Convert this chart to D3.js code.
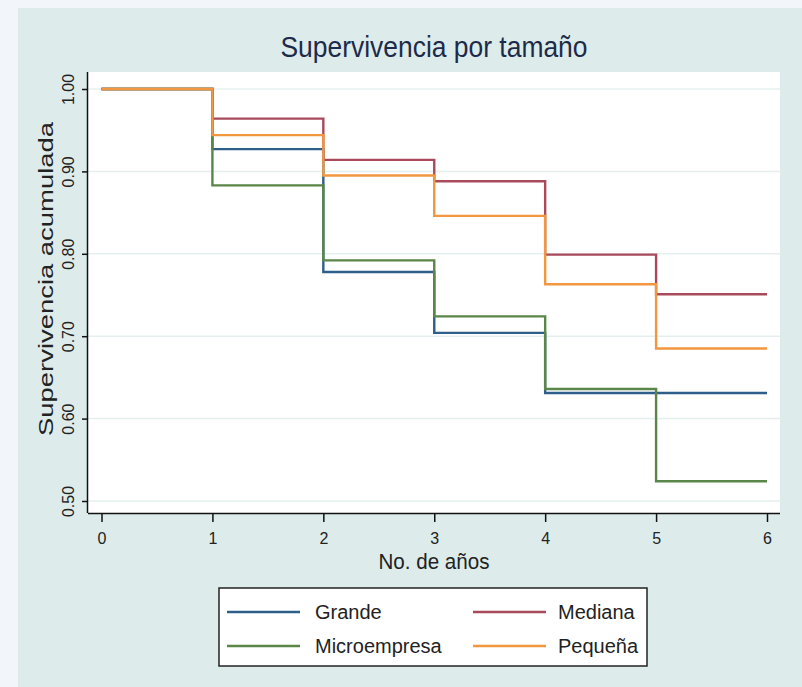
<!DOCTYPE html>
<html>
<head>
<meta charset="utf-8">
<script src="https://cdn.jsdelivr.net/npm/d3@7"></script>
<style>
  html, body { margin: 0; padding: 0; background: #f2f5f9; }
  svg { display: block; }
  text { font-family: "Liberation Sans", Arial, sans-serif; }
</style>
</head>
<body>
<svg id="chart" width="802" height="687"></svg>
<script>
// years on the x axis
var years = [0, 1, 2, 3, 4, 5, 6];
var xTicks = [0, 1, 2, 3, 4, 5, 6];
var yTicks = [0.5, 0.6, 0.7, 0.8, 0.9, 1.0];

// cumulative survival at each year (step after)
var grande      = [1.000, 0.927, 0.778, 0.704, 0.631, 0.631, 0.631];
var mediana     = [1.000, 0.964, 0.914, 0.888, 0.799, 0.751, 0.751];
var microempresa= [1.000, 0.883, 0.792, 0.724, 0.636, 0.524, 0.524];
var pequena     = [1.000, 0.944, 0.895, 0.846, 0.763, 0.685, 0.685];

var seriesNames = ["Grande", "Mediana", "Microempresa", "Pequeña"];
var seriesColors = ["#2d5f8a", "#a84a5b", "#5a8748", "#f2973f"];

var series = [grande, mediana, microempresa, pequena].map(function(vals, i) {
    return { name: seriesNames[i], color: seriesColors[i], values: vals };
});

var svg = d3.select("#chart");

// outer graph region
svg.append("rect")
    .attr("x", 18).attr("y", 8)
    .attr("width", 802 - 18).attr("height", 687 - 8)
    .attr("fill", "#ddeceb");

var plot = {left: 88, top: 72, right: 780, bottom: 513};

svg.append("rect")
    .attr("x", plot.left).attr("y", plot.top)
    .attr("width", plot.right - plot.left).attr("height", plot.bottom - plot.top)
    .attr("fill", "#ffffff");

var x = d3.scaleLinear().domain([0, 6]).range([101.5, 767]);
var y = d3.scaleLinear().domain([0.5, 1.0]).range([501, 89]);

// gridlines
svg.append("g")
    .selectAll("line")
    .data(yTicks)
    .enter().append("line")
        .attr("x1", plot.left).attr("x2", plot.right)
        .attr("y1", function(d) { return y(d); })
        .attr("y2", function(d) { return y(d); })
        .attr("stroke", "#e6efef")
        .attr("stroke-width", 1.5);

// axes
var xAxis = svg.append("g")
    .attr("transform", "translate(0," + plot.bottom + ")")
    .call(d3.axisBottom(x).tickValues(xTicks).tickFormat(d3.format("d")).tickSize(9).tickSizeOuter(0));
xAxis.select(".domain").attr("d", "M" + plot.left + ",0.5H" + plot.right).attr("stroke", "#111").attr("stroke-width", 1.5);
xAxis.selectAll(".tick line").attr("stroke", "#111").attr("stroke-width", 1.5);
xAxis.selectAll(".tick text")
    .attr("y", 20).attr("dy", "0.71em")
    .attr("font-size", 16).attr("fill", "#222");

var yAxis = svg.append("g")
    .attr("transform", "translate(" + plot.left + ",0)")
    .call(d3.axisLeft(y).tickValues(yTicks).tickFormat(d3.format(".2f")).tickSize(6).tickSizeOuter(0));
yAxis.select(".domain").attr("d", "M-0.5," + plot.top + "V" + plot.bottom).attr("stroke", "#111").attr("stroke-width", 1.5);
yAxis.selectAll(".tick line").attr("stroke", "#111").attr("stroke-width", 1.5);
yAxis.selectAll(".tick text")
    .attr("x", null).attr("dy", null)
    .attr("transform", "translate(-14,0) rotate(-90)")
    .attr("text-anchor", "middle")
    .attr("font-size", 16).attr("fill", "#222");

// survival steps
var line = d3.line()
    .x(function(d, i) { return x(years[i]); })
    .y(function(d) { return y(d); })
    .curve(d3.curveStepAfter);

svg.append("g")
    .selectAll("path")
    .data(series)
    .enter().append("path")
        .attr("d", function(s) { return line(s.values); })
        .attr("fill", "none")
        .attr("stroke", function(s) { return s.color; })
        .attr("stroke-width", 2.4);

// titles
svg.append("text")
    .attr("x", 434).attr("y", 57)
    .attr("text-anchor", "middle")
    .attr("font-size", 29).attr("fill", "#1d2b4a")
    .attr("textLength", 307).attr("lengthAdjust", "spacingAndGlyphs")
    .text("Supervivencia por tamaño");

svg.append("text")
    .attr("x", 434).attr("y", 569)
    .attr("text-anchor", "middle")
    .attr("font-size", 22).attr("fill", "#222")
    .attr("textLength", 111).attr("lengthAdjust", "spacingAndGlyphs")
    .text("No. de años");

svg.append("text")
    .attr("transform", "translate(53,279) rotate(-90)")
    .attr("text-anchor", "middle")
    .attr("font-size", 20).attr("fill", "#222")
    .attr("textLength", 314).attr("lengthAdjust", "spacingAndGlyphs")
    .text("Supervivencia acumulada");

// legend
var legend = svg.append("g");
legend.append("rect")
    .attr("x", 219).attr("y", 588)
    .attr("width", 428).attr("height", 78)
    .attr("fill", "#ffffff")
    .attr("stroke", "#222").attr("stroke-width", 1.5);

var legendPos = [
    {lx: 227, tx: 315, ty: 612},
    {lx: 473, tx: 558, ty: 612},
    {lx: 227, tx: 315, ty: 646},
    {lx: 473, tx: 558, ty: 646}
];

var items = legend.selectAll(".item")
    .data(series)
    .enter().append("g").attr("class", "item");

items.append("line")
    .attr("x1", function(d, i) { return legendPos[i].lx; })
    .attr("x2", function(d, i) { return legendPos[i].lx + 73; })
    .attr("y1", function(d, i) { return legendPos[i].ty; })
    .attr("y2", function(d, i) { return legendPos[i].ty; })
    .attr("stroke", function(d) { return d.color; })
    .attr("stroke-width", 2.4);

items.append("text")
    .attr("x", function(d, i) { return legendPos[i].tx; })
    .attr("y", function(d, i) { return legendPos[i].ty + 7; })
    .attr("font-size", 20).attr("fill", "#222")
    .text(function(d) { return d.name; });
</script>
</body>
</html>
